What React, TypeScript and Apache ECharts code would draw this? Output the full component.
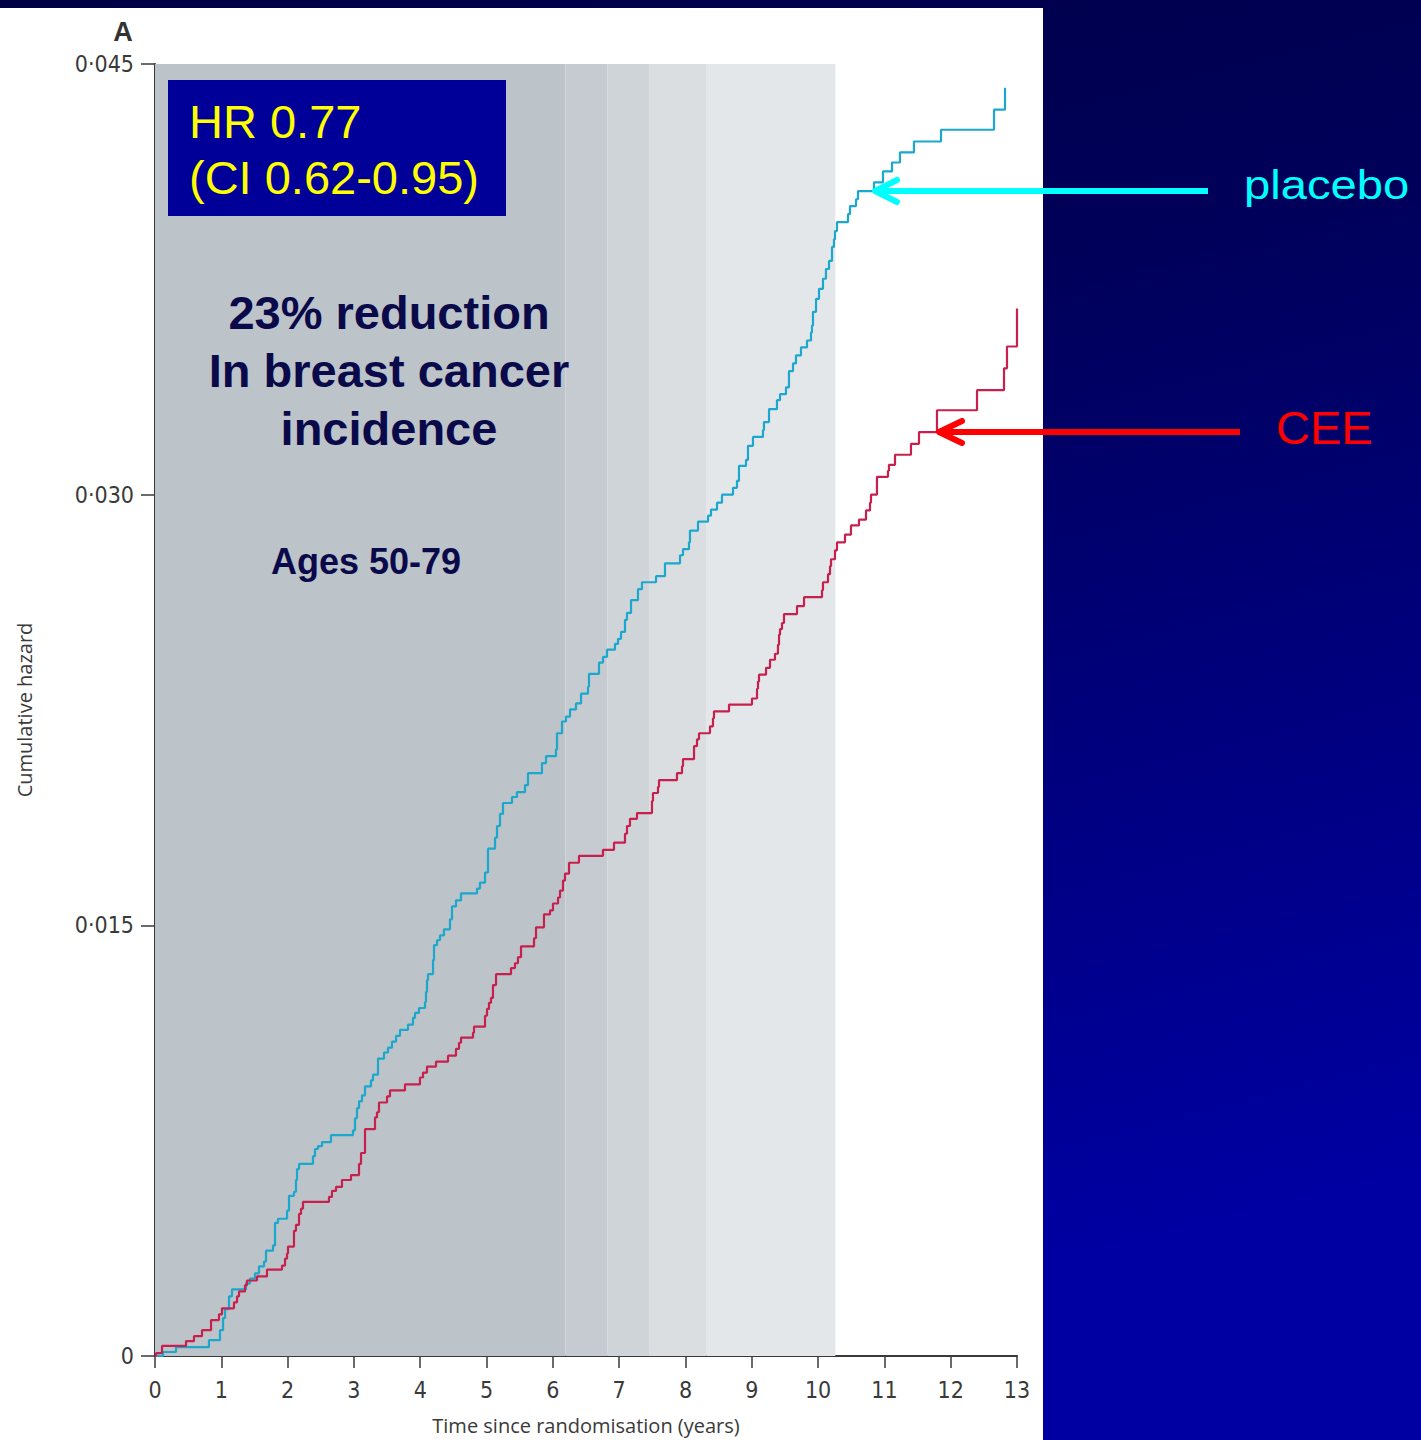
import React, { useEffect, useRef } from 'react';
import * as echarts from 'echarts';

// ---------- data ----------
const placeboTimes = [
  0, 0.121, 0.317, 0.814, 0.980, 1.026, 1.056, 1.116, 1.161, 1.372, 1.433, 1.508, 1.568, 1.644, 1.674, 1.780,
  1.810, 1.855, 1.991, 2.021, 2.096, 2.126, 2.142, 2.172, 2.383, 2.413, 2.458, 2.519, 2.654, 2.986, 3.016, 3.046,
  3.077, 3.122, 3.167, 3.257, 3.288, 3.363, 3.454, 3.514, 3.574, 3.635, 3.695, 3.815, 3.891, 3.921, 3.981, 4.072,
  4.087, 4.102, 4.117, 4.193, 4.208, 4.253, 4.298, 4.358, 4.449, 4.479, 4.539, 4.615, 4.856, 4.901, 4.977, 5.022,
  5.128, 5.158, 5.203, 5.248, 5.384, 5.459, 5.580, 5.625, 5.836, 5.897, 6.047, 6.063, 6.138, 6.198, 6.259, 6.349,
  6.425, 6.530, 6.545, 6.696, 6.756, 6.817, 6.937, 6.983, 7.028, 7.088, 7.118, 7.179, 7.284, 7.344, 7.556, 7.691,
  7.918, 7.963, 8.053, 8.068, 8.189, 8.340, 8.385, 8.476, 8.551, 8.717, 8.777, 8.807, 8.913, 8.943, 9.018, 9.169,
  9.184, 9.260, 9.380, 9.426, 9.516, 9.561, 9.622, 9.667, 9.742, 9.833, 9.893, 9.908, 9.923, 9.969, 10.014, 10.074,
  10.119, 10.165, 10.210, 10.240, 10.255, 10.285, 10.451, 10.481, 10.572, 10.602, 10.843, 10.979, 11.115, 11.235,
  11.446, 11.854, 12.653, 12.819,
];
const placeboHazard = [
  0, 0.00014, 0.00031, 0.00055, 0.00090, 0.00132, 0.00163, 0.00208, 0.00232, 0.00253, 0.00270, 0.00288, 0.00312, 0.00329, 0.00367, 0.00385,
  0.00464, 0.00478, 0.00506, 0.00558, 0.00572, 0.00613, 0.00651, 0.00669, 0.00696, 0.00721, 0.00731, 0.00745, 0.00769, 0.00786, 0.00828, 0.00863,
  0.00887, 0.00908, 0.00939, 0.00960, 0.00980, 0.01036, 0.01057, 0.01074, 0.01095, 0.01115, 0.01136, 0.01154, 0.01178, 0.01195, 0.01212, 0.01233,
  0.01268, 0.01309, 0.01330, 0.01379, 0.01431, 0.01448, 0.01465, 0.01486, 0.01521, 0.01566, 0.01587, 0.01611, 0.01628, 0.01649, 0.01684, 0.01767,
  0.01805, 0.01846, 0.01888, 0.01926, 0.01947, 0.01964, 0.01988, 0.02030, 0.02065, 0.02089, 0.02113, 0.02169, 0.02210, 0.02227, 0.02252, 0.02273,
  0.02307, 0.02331, 0.02376, 0.02415, 0.02435, 0.02460, 0.02480, 0.02498, 0.02522, 0.02564, 0.02588, 0.02633, 0.02671, 0.02695, 0.02716, 0.02761,
  0.02789, 0.02810, 0.02834, 0.02875, 0.02906, 0.02927, 0.02948, 0.02972, 0.03000, 0.03024, 0.03048, 0.03100, 0.03121, 0.03170, 0.03201, 0.03225,
  0.03253, 0.03298, 0.03329, 0.03350, 0.03374, 0.03430, 0.03457, 0.03485, 0.03513, 0.03537, 0.03565, 0.03589, 0.03637, 0.03682, 0.03717, 0.03752,
  0.03786, 0.03814, 0.03863, 0.03890, 0.03918, 0.03949, 0.03977, 0.04005, 0.04029, 0.04057, 0.04088, 0.04126, 0.04157, 0.04192,
  0.04230, 0.04271, 0.04341, 0.04417,
];

const ceeTimes = [
  0, 0.015, 0.106, 0.468, 0.588, 0.709, 0.845, 0.965, 1.010, 1.191, 1.237, 1.267, 1.357, 1.387, 1.538, 1.689,
  1.915, 1.961, 1.991, 2.006, 2.096, 2.126, 2.172, 2.202, 2.232, 2.624, 2.669, 2.730, 2.820, 2.956, 3.077, 3.107,
  3.167, 3.318, 3.348, 3.378, 3.499, 3.544, 3.770, 3.996, 4.042, 4.102, 4.238, 4.419, 4.539, 4.585, 4.615, 4.796,
  4.811, 4.977, 5.007, 5.037, 5.067, 5.097, 5.143, 5.369, 5.429, 5.474, 5.520, 5.716, 5.746, 5.866, 5.957, 6.002,
  6.078, 6.108, 6.153, 6.183, 6.244, 6.394, 6.756, 6.922, 7.088, 7.118, 7.163, 7.269, 7.495, 7.510, 7.586, 7.601,
  7.872, 7.948, 7.963, 8.129, 8.174, 8.204, 8.370, 8.415, 8.430, 8.657, 9.003, 9.079, 9.094, 9.109, 9.215, 9.275,
  9.350, 9.395, 9.411, 9.426, 9.456, 9.486, 9.682, 9.788, 10.059, 10.074, 10.150, 10.180, 10.195, 10.255, 10.285, 10.406,
  10.496, 10.617, 10.723, 10.783, 10.798, 10.888, 11.054, 11.069, 11.160, 11.401, 11.522, 11.793, 12.397, 12.804, 12.849, 13.0,
];
const ceeHazard = [
  0, 0.00010, 0.00035, 0.00052, 0.00069, 0.00090, 0.00125, 0.00145, 0.00166, 0.00187, 0.00208, 0.00225, 0.00246, 0.00263, 0.00277, 0.00301,
  0.00315, 0.00339, 0.00357, 0.00381, 0.00436, 0.00457, 0.00495, 0.00513, 0.00537, 0.00554, 0.00575, 0.00589, 0.00613, 0.00630, 0.00669, 0.00707,
  0.00790, 0.00831, 0.00849, 0.00883, 0.00904, 0.00925, 0.00946, 0.00970, 0.00987, 0.01008, 0.01025, 0.01046, 0.01070, 0.01091, 0.01109, 0.01126,
  0.01147, 0.01185, 0.01209, 0.01230, 0.01247, 0.01292, 0.01330, 0.01351, 0.01368, 0.01389, 0.01427, 0.01455, 0.01493, 0.01538, 0.01552, 0.01576,
  0.01597, 0.01621, 0.01656, 0.01680, 0.01718, 0.01742, 0.01763, 0.01788, 0.01819, 0.01846, 0.01871, 0.01891, 0.01933, 0.01961, 0.01982, 0.02006,
  0.02030, 0.02054, 0.02079, 0.02124, 0.02148, 0.02169, 0.02193, 0.02221, 0.02245, 0.02269, 0.02290, 0.02324, 0.02349, 0.02373, 0.02397, 0.02425,
  0.02446, 0.02477, 0.02512, 0.02532, 0.02553, 0.02584, 0.02612, 0.02643, 0.02667, 0.02695, 0.02723, 0.02751, 0.02775, 0.02806, 0.02834, 0.02861,
  0.02893, 0.02913, 0.02945, 0.02972, 0.03000, 0.03062, 0.03083, 0.03104, 0.03139, 0.03177, 0.03218, 0.03294, 0.03364, 0.03440, 0.03516, 0.03648,
];

// shaded follow-up bands (years)
const bandEdges = [0, 6.19, 6.82, 7.45, 8.32, 10.26];
const bandColors = ['#bcc3c9', '#c5cbd0', '#cfd4d8', '#dadee1', '#e4e7ea'];

const yTickLabels = ['0', '0·015', '0·030', '0·045'];
const yStep = 0.015;

const annotationLines = ['23% reduction', 'In breast cancer', 'incidence'];

export default function App() {
  const ref = useRef<HTMLDivElement>(null);

  useEffect(() => {
    if (!ref.current) return;
    const chart = echarts.init(ref.current, undefined, { renderer: 'svg', width: 1421, height: 1440 });

    const tickFont = '"Liberation Sans Narrow", "DejaVu Sans Condensed", "Open Sans", sans-serif';
    const nameFont = '"Open Sans", "Liberation Sans", sans-serif';

    const bandData = bandColors.map((c, i) => [
      { xAxis: bandEdges[i], itemStyle: { color: c } },
      { xAxis: bandEdges[i + 1] },
    ]);

    const option: any = {
      animation: false,
      backgroundColor: {
        type: 'linear', x: 0, y: 0, x2: 0.25, y2: 1,
        colorStops: [
          { offset: 0, color: '#000044' },
          { offset: 0.35, color: '#00005a' },
          { offset: 1, color: '#0000a2' },
        ],
      },
      grid: { left: 155, right: 404, top: 64, bottom: 71, containLabel: false },
      xAxis: {
        type: 'value', min: 0, max: 13, interval: 1,
        axisLine: { show: true, lineStyle: { color: '#3a3a3a', width: 2 } },
        axisTick: { show: true, length: 12, lineStyle: { color: '#3a3a3a', width: 1.5 } },
        axisLabel: { color: '#3a3a3a', fontFamily: tickFont, fontSize: 23, margin: 22 },
        splitLine: { show: false },
        name: 'Time since randomisation (years)',
        nameLocation: 'middle', nameGap: 59,
        nameTextStyle: { color: '#3a3a3a', fontFamily: nameFont, fontSize: 20, verticalAlign: 'top' },
      },
      yAxis: {
        type: 'value', min: 0, max: 0.045, interval: yStep,
        axisLine: { show: true, lineStyle: { color: '#3a3a3a', width: 2 } },
        axisTick: { show: true, length: 14, lineStyle: { color: '#3a3a3a', width: 1.5 } },
        axisLabel: {
          color: '#3a3a3a', fontFamily: tickFont, fontSize: 23, margin: 21,
          formatter: (v: number) => yTickLabels[Math.round(v / yStep)],
        },
        splitLine: { show: false },
        name: 'Cumulative hazard',
        nameLocation: 'middle', nameGap: 121, nameRotate: 90,
        nameTextStyle: { color: '#3a3a3a', fontFamily: nameFont, fontSize: 20 },
      },
      series: [
        {
          type: 'line', data: [], z: 1, silent: true,
          markArea: { silent: true, data: bandData },
        },
        {
          name: 'Placebo', type: 'line', step: 'end', showSymbol: false, z: 3,
          lineStyle: { color: '#1ba8cc', width: 2.2 },
          data: placeboTimes.map((t, i) => [t, placeboHazard[i]]),
        },
        {
          name: 'CEE', type: 'line', step: 'end', showSymbol: false, z: 3,
          lineStyle: { color: '#c8204e', width: 2.2 },
          data: ceeTimes.map((t, i) => [t, ceeHazard[i]]),
        },
      ],
      graphic: [
        { type: 'rect', z: -10, shape: { x: 0, y: 8, width: 1043, height: 1432 }, style: { fill: '#ffffff' } },
        {
          type: 'text', z: 10, x: 123, y: 32,
          style: { text: 'A', fill: '#333333', font: 'bold 27px "Liberation Sans", Arial, sans-serif', textAlign: 'center', textVerticalAlign: 'middle' },
        },
        { type: 'rect', z: 10, shape: { x: 168, y: 80, width: 338, height: 136 }, style: { fill: '#000099' } },
        {
          type: 'text', z: 11, x: 189, y: 121,
          style: { text: 'HR 0.77', fill: '#ffff00', font: '47px "Liberation Sans", Arial, sans-serif', textAlign: 'left', textVerticalAlign: 'middle' },
        },
        {
          type: 'text', z: 11, x: 189, y: 177,
          style: { text: '(CI 0.62-0.95)', fill: '#ffff00', font: '47px "Liberation Sans", Arial, sans-serif', textAlign: 'left', textVerticalAlign: 'middle' },
        },
        ...annotationLines.map((t, i) => ({
          type: 'text', z: 11, x: 389, y: 312 + i * 58,
          style: { text: t, fill: '#0a0a4a', font: 'bold 47px "Liberation Sans", Arial, sans-serif', textAlign: 'center', textVerticalAlign: 'middle' },
        })),
        {
          type: 'text', z: 11, x: 366, y: 561,
          style: { text: 'Ages 50-79', fill: '#0a0a4a', font: 'bold 36px "Liberation Sans", Arial, sans-serif', textAlign: 'center', textVerticalAlign: 'middle' },
        },
        // placebo arrow
        { type: 'line', z: 12, shape: { x1: 878, y1: 191, x2: 1208, y2: 191 }, style: { stroke: '#00ffff', lineWidth: 6 } },
        { type: 'polyline', z: 12, shape: { points: [[897, 180], [875, 191], [897, 202]] }, style: { stroke: '#00ffff', lineWidth: 6, lineCap: 'round', lineJoin: 'round', fill: null } },
        {
          type: 'text', z: 12, x: 1244, y: 185, scaleX: 1.18,
          style: { text: 'placebo', fill: '#00ffff', font: '40px "Liberation Sans", Arial, sans-serif', textAlign: 'left', textVerticalAlign: 'middle' },
        },
        // CEE arrow
        { type: 'line', z: 12, shape: { x1: 941, y1: 432, x2: 1240, y2: 432 }, style: { stroke: '#ff0000', lineWidth: 6 } },
        { type: 'polyline', z: 12, shape: { points: [[962, 421], [939, 432], [962, 443]] }, style: { stroke: '#ff0000', lineWidth: 6, lineCap: 'round', lineJoin: 'round', fill: null } },
        {
          type: 'text', z: 12, x: 1276, y: 427,
          style: { text: 'CEE', fill: '#ff0000', font: '47px "Liberation Sans", Arial, sans-serif', textAlign: 'left', textVerticalAlign: 'middle' },
        },
      ],
    };

    chart.setOption(option);
    return () => chart.dispose();
  }, []);

  return <div ref={ref} style={{ position: 'absolute', left: 0, top: 0, width: 1421, height: 1440 }} />;
}
